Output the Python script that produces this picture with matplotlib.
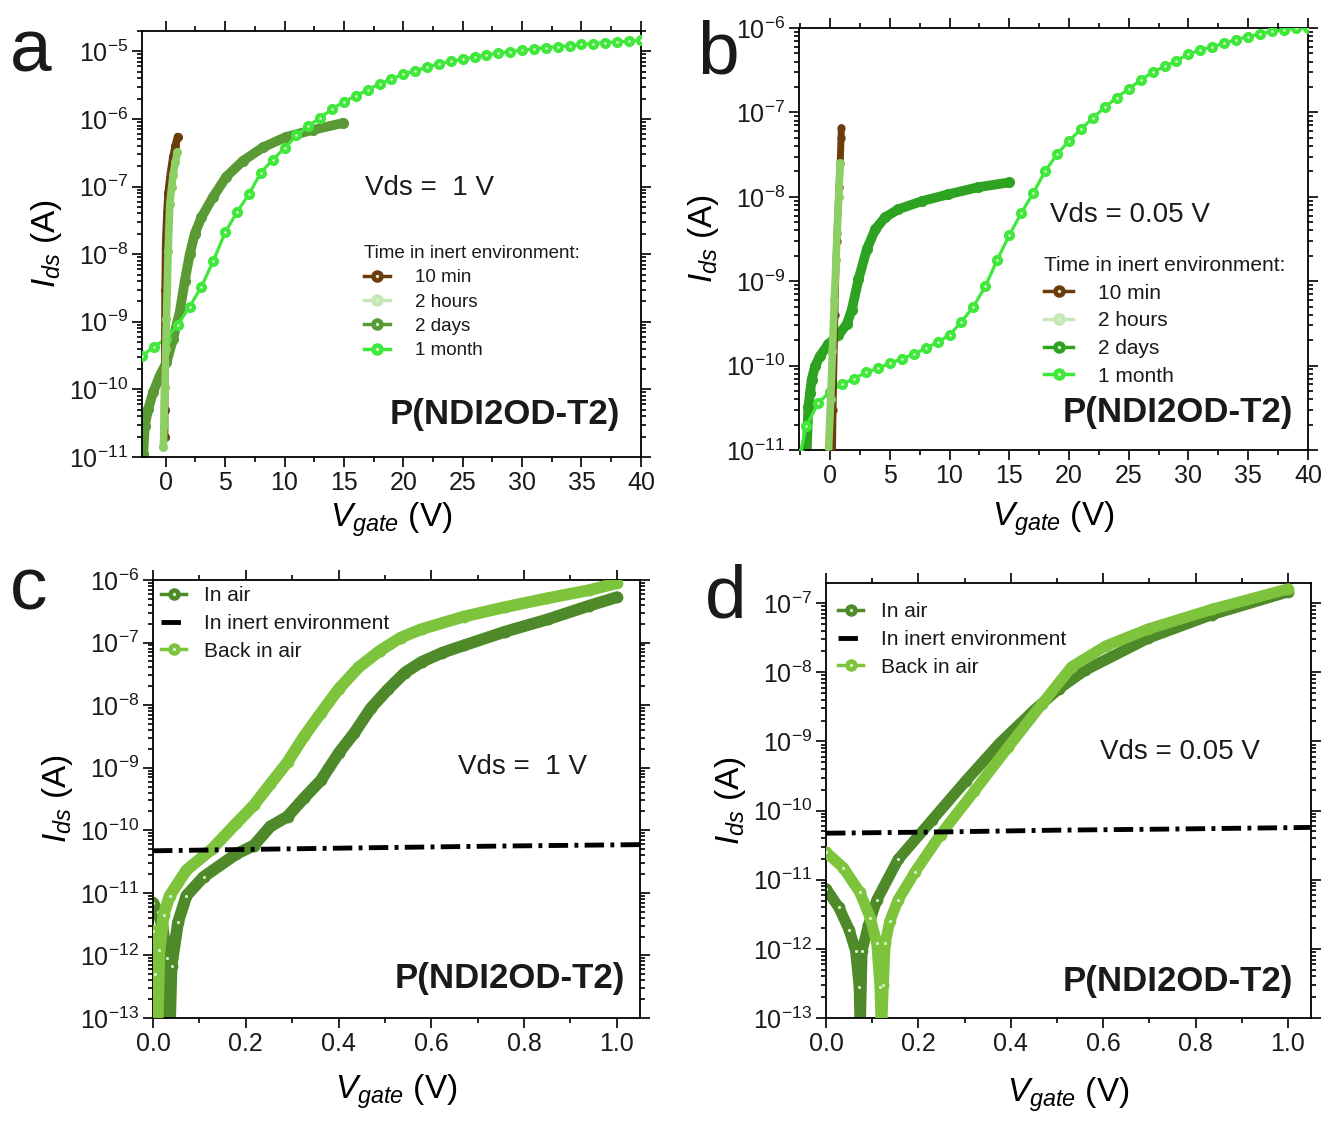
import numpy as np
import matplotlib
matplotlib.use("Agg")
import matplotlib.pyplot as plt
from matplotlib import ticker
from matplotlib.lines import Line2D
from matplotlib.legend_handler import HandlerTuple

plt.rcParams.update({
    "font.family": ["Liberation Sans", "DejaVu Sans"],
    "mathtext.fontset": "custom",
    "mathtext.rm": "Liberation Sans",
    "mathtext.it": "Liberation Sans:italic",
    "mathtext.bf": "Liberation Sans:bold",
    "axes.linewidth": 1.3,
    "text.color": "#1a1a1a",
})

# ---------------- (a) transfer curves, Vds = 1 V ----------------
a_10min_v = [-0.1, -0.1, -0.08, -0.05, 0.0, 0.1, 0.2, 0.4, 0.6, 0.8, 1.0]
a_10min_i = [2e-11, 5e-11, 3e-10, 3e-9, 1.5e-8, 4e-8, 8e-8, 1.6e-7, 2.7e-7, 4e-7, 5.5e-7]
a_2h_v = [-0.2, -0.15, -0.08, 0.0, 0.06, 0.2, 0.34, 0.5, 0.62, 0.8, 0.98]
a_2h_i = [1.4e-11, 3e-11, 1.1e-10, 4e-10, 1.1e-9, 1.1e-8, 5.5e-8, 1e-7, 1.5e-7, 2.3e-7, 3.2e-7]
a_2d_v = [-2.0, -1.9, -1.76, -1.48, -1.06, -0.5, 0.06, 0.62, 1.18, 1.6, 2.02, 2.44, 3.0,
          3.98, 5.1, 6.5, 8.18, 10.1, 12.4, 14.9]
a_2d_i = [8e-12, 1.1e-11, 2.9e-11, 5.1e-11, 9.1e-11, 1.6e-10, 2.5e-10, 5.6e-10, 1.4e-9, 4e-9,
          1e-8, 2e-8, 3.5e-8, 7e-8, 1.4e-7, 2.4e-7, 3.8e-7, 5.4e-7, 6.9e-7, 8.7e-7]
a_1m_v = list(range(-2, 41))
a_1m_i = [3.1e-10, 4.3e-10, 5.5e-10, 9e-10, 1.66e-9, 3.3e-9, 7.9e-9, 2.1e-8, 4.2e-8, 7.7e-8,
          1.6e-7, 2.5e-7, 3.7e-7, 5.7e-7, 7.9e-7, 1.04e-6, 1.4e-6, 1.8e-6, 2.2e-6, 2.7e-6,
          3.3e-6, 3.9e-6, 4.6e-6, 5.2e-6, 5.8e-6, 6.6e-6, 7.1e-6, 7.7e-6, 8.2e-6, 8.9e-6,
          9.4e-6, 9.9e-6, 1.04e-5, 1.09e-5, 1.14e-5, 1.17e-5, 1.21e-5, 1.27e-5, 1.3e-5,
          1.35e-5, 1.38e-5, 1.42e-5, 1.45e-5]

# ---------------- (b) transfer curves, Vds = 0.05 V ----------------
b_10min_v = [0.2, 0.25, 0.4, 0.55, 0.75, 0.85, 0.92, 0.95]
b_10min_i = [9e-12, 3e-11, 4e-10, 3e-9, 1.3e-8, 2.5e-8, 5e-8, 6.6e-8]
b_2h_v = [-0.14, 0.05, 0.2, 0.36, 0.5, 0.59, 0.72, 0.84]
b_2h_i = [9e-12, 4e-11, 1.5e-10, 6e-10, 1.8e-9, 3.7e-9, 1e-8, 2.5e-8]
b_2d_v = [-1.96, -1.82, -1.68, -1.54, -1.26, -0.84, -0.14, 0.7, 1.4, 1.82, 2.38, 3.08,
          3.78, 4.6, 5.7, 7.7, 9.9, 12.4, 15.0]
b_2d_i = [9e-12, 3.2e-11, 4.7e-11, 6.8e-11, 9.8e-11, 1.3e-10, 1.8e-10, 2.3e-10, 3.1e-10,
          4.6e-10, 1.05e-9, 2.4e-9, 4.1e-9, 5.7e-9, 7.1e-9, 8.9e-9, 1.07e-8, 1.3e-8, 1.48e-8]
b_1m_v = [-2.5] + list(range(-2, 41))
b_1m_i = [9e-12, 1.9e-11, 3.6e-11, 4.9e-11, 6e-11, 7e-11, 8.3e-11, 9.3e-11, 1.06e-10,
          1.2e-10, 1.37e-10, 1.6e-10, 1.9e-10, 2.3e-10, 3.3e-10, 5e-10, 8.7e-10, 1.8e-9,
          3.5e-9, 6.4e-9, 1.1e-8, 2e-8, 3.2e-8, 4.6e-8, 6.3e-8, 8.6e-8, 1.15e-7, 1.5e-7,
          1.9e-7, 2.4e-7, 3e-7, 3.5e-7, 4.1e-7, 4.9e-7, 5.5e-7, 6e-7, 6.6e-7, 7.3e-7,
          7.9e-7, 8.5e-7, 9.1e-7, 9.5e-7, 1e-6, 1e-6]

# ---------------- (c) air / inert / air, Vds = 1 V ----------------
c_air_v = [0.0, 0.01, 0.02, 0.03, 0.036, 0.04, 0.054, 0.072, 0.109, 0.18, 0.217, 0.253,
           0.29, 0.326, 0.362, 0.4, 0.434, 0.47, 0.507, 0.543, 0.579, 0.624, 0.67, 0.76,
           0.851, 0.941, 1.0]
c_air_i = [7e-12, 5e-12, 3e-12, 9e-13, 6e-14, 6.8e-13, 3.4e-12, 9e-12, 1.8e-11, 4.2e-11,
           5.7e-11, 1.15e-10, 1.66e-10, 3.3e-10, 6.3e-10, 1.7e-9, 3.6e-9, 9e-9, 1.8e-8,
           3.3e-8, 4.9e-8, 6.9e-8, 9e-8, 1.5e-7, 2.35e-7, 3.9e-7, 5.3e-7]
c_back_v = [0.0, 0.004, 0.009, 0.014, 0.023, 0.036, 0.072, 0.127, 0.18, 0.217, 0.253,
            0.29, 0.326, 0.362, 0.4, 0.443, 0.489, 0.534, 0.579, 0.67, 0.76, 0.85, 0.941,
            1.0]
c_back_i = [2.5e-12, 5e-13, 6e-14, 1.2e-12, 4.5e-12, 9e-12, 2.3e-11, 5e-11, 1.3e-10,
            2.5e-10, 5.5e-10, 1.23e-9, 3.2e-9, 7.5e-9, 1.8e-8, 4e-8, 7.4e-8, 1.2e-7,
            1.64e-7, 2.6e-7, 3.7e-7, 5.1e-7, 6.9e-7, 8.9e-7]
c_inert_v = [0.0, 0.25, 0.5, 0.75, 1.05]
c_inert_i = [4.7e-11, 5e-11, 5.3e-11, 5.6e-11, 5.9e-11]

# ---------------- (d) air / inert / air, Vds = 0.05 V ----------------
d_air_v = [0.0, 0.0275, 0.05, 0.064, 0.072, 0.074, 0.078, 0.092, 0.11, 0.156, 0.229,
           0.303, 0.376, 0.45, 0.505, 0.56, 0.697, 0.835, 1.0]
d_air_i = [7.4e-12, 4e-12, 1.9e-12, 9.4e-13, 2.8e-13, 6e-14, 9.4e-13, 2.2e-12, 5.1e-12,
           1.96e-11, 7.2e-11, 2.7e-10, 9.4e-10, 2.8e-9, 5.8e-9, 1.06e-8, 3.1e-8, 6.8e-8,
           1.45e-7]
d_back_v = [0.0, 0.037, 0.073, 0.096, 0.11, 0.117, 0.12, 0.124, 0.128, 0.138, 0.156,
            0.193, 0.248, 0.321, 0.394, 0.468, 0.532, 0.606, 0.697, 0.835, 1.0]
d_back_i = [2.5e-11, 1.5e-11, 6.6e-12, 2.8e-12, 1.2e-12, 2.8e-13, 6e-14, 3e-13, 1.2e-12,
            2.5e-12, 5.1e-12, 1.3e-11, 4.5e-11, 1.9e-10, 8.2e-10, 3.5e-9, 1.2e-8, 2.4e-8,
            4.2e-8, 8.1e-8, 1.6e-7]
d_inert_v = [0.0, 0.25, 0.5, 0.75, 1.05]
d_inert_i = [4.7e-11, 4.9e-11, 5.2e-11, 5.4e-11, 5.7e-11]

legend_a = ["10 min", "2 hours", "2 days", "1 month"]
legend_c = ["In air", "In inert environment", "Back in air"]

# colours
BROWN = "#6b3c0c"
LIGHT = "#8ccf63"
LIGHT_LEG = "#c6e8b6"
DAYS_A = "#5a9a35"
DAYS_B = "#2ea321"
MONTH = "#3fe83a"
AIR = "#4f8a2a"
BACK = "#7dc43c"
HL = "#d6f4cc"

W, H = 1326, 1122
fig = plt.figure(figsize=(W / 100, H / 100), dpi=100)


def frac(l, t, r, b):
    return [l / W, 1 - b / H, (r - l) / W, (b - t) / H]


def style(ax, xlim, ylim, xmaj, xmin, fmt=None, xpad=4):
    ax.set_yscale("log")
    ax.set_xlim(*xlim)
    ax.set_ylim(*ylim)
    ax.xaxis.set_major_locator(ticker.MultipleLocator(xmaj))
    ax.xaxis.set_minor_locator(ticker.MultipleLocator(xmin))
    if fmt:
        ax.xaxis.set_major_formatter(ticker.FormatStrFormatter(fmt))
    # decade ticks restricted to the visible range
    lo = int(np.floor(np.log10(ylim[0]) + 1e-3))
    hi = int(np.floor(np.log10(ylim[1]) + 1e-3))
    major = [10.0 ** k for k in range(lo, hi + 1)]
    minor = [m * 10.0 ** k for k in range(lo, hi + 1) for m in range(2, 10)
             if m * 10.0 ** k <= ylim[1]]
    ax.yaxis.set_major_locator(ticker.FixedLocator(major))
    ax.yaxis.set_minor_locator(ticker.FixedLocator(minor))
    ax.yaxis.set_major_formatter(ticker.LogFormatterSciNotation())
    ax.yaxis.set_minor_formatter(ticker.NullFormatter())
    ax.tick_params(which="both", top=True, right=True, direction="out",
                   labelsize=18, width=1.2, pad=3, labelcolor="#1a1a1a")
    ax.tick_params(which="major", length=7)
    ax.tick_params(which="minor", length=3.5)
    ax.set_ylabel(r"$I_{ds}$ (A)", fontsize=24, labelpad=4)
    ax.set_xlabel(r"$V_{gate}$ (V)", fontsize=24, labelpad=xpad)


def rope(ax, v, i, color, lw, ms, z, hl_below=None):
    ax.plot(v, i, "-", color=color, lw=lw, solid_capstyle="round",
            solid_joinstyle="round", zorder=z)
    ax.plot(v, i, "o", color=color, ms=ms, mec=color, zorder=z)
    if hl_below is not None:
        vv = [a for a, b in zip(v, i) if b < hl_below]
        ii = [b for b in i if b < hl_below]
        ax.plot(vv, ii, "o", color=HL, ms=ms * 0.3, mew=0, zorder=z + 0.1)


def beads(ax, v, i, color, lw, ms, z):
    ax.plot(v, i, "-", color=color, lw=lw, zorder=z)
    ax.plot(v, i, "o", color=color, ms=ms, mec=color, mew=1, zorder=z)
    ax.plot(v, i, "o", color=HL, ms=ms * 0.28, mew=0, zorder=z + 0.1)


def handle(color, lw=2.5, ms=8):
    base = Line2D([], [], color=color, lw=lw, marker="o", ms=ms, mec=color)
    hi = Line2D([], [], ls="none", marker="o", ms=ms * 0.3, color=HL, mew=0)
    return (base, hi)


DASHDOT = (0, (4, 1.3, 0.8, 1.3))
TUPLE = {tuple: HandlerTuple(ndivide=1)}

# ---------- panel a ----------
ax = fig.add_axes(frac(142, 31, 641, 457))
style(ax, (-2, 40.01), (1e-11, 2e-5), 5, 2.5)
rope(ax, a_2d_v, a_2d_i, DAYS_A, 7, 7, 2)
beads(ax, a_1m_v, a_1m_i, MONTH, 2.3, 7, 3)
rope(ax, a_10min_v, a_10min_i, BROWN, 5.5, 5.5, 4)
rope(ax, a_2h_v, a_2h_i, LIGHT, 5.5, 5.5, 5)
hs = [handle(BROWN), handle(LIGHT_LEG), handle(DAYS_A), handle(MONTH)]
ax.legend(hs, legend_a, title="Time in inert environment:", alignment="left",
          loc="upper left", bbox_to_anchor=(0.43, 0.515), frameon=False,
          fontsize=13.5, title_fontsize=13.5, handlelength=1.4, handletextpad=1.3,
          labelspacing=0.38, borderaxespad=0, handler_map=TUPLE)
ax.text(0.447, 0.632, "Vds =  1 V", transform=ax.transAxes, fontsize=20, va="center")
ax.text(0.958, 0.1, "P(NDI2OD-T2)", transform=ax.transAxes, fontsize=25,
        fontweight="bold", ha="right", va="center")

# ---------- panel b ----------
ax = fig.add_axes(frac(799, 28, 1308, 450))
style(ax, (-2.6, 40.01), (1e-11, 1.0001e-6), 5, 2.5, xpad=8)
rope(ax, b_2d_v, b_2d_i, DAYS_B, 7, 7, 2)
beads(ax, b_1m_v, b_1m_i, MONTH, 2.3, 7, 3)
rope(ax, b_10min_v, b_10min_i, BROWN, 5, 5, 4)
rope(ax, b_2h_v, b_2h_i, LIGHT, 5.5, 5.5, 5)
hs = [handle(BROWN), handle(LIGHT_LEG), handle(DAYS_B), handle(MONTH)]
ax.legend(hs, legend_a, title="Time in inert environment:", alignment="left",
          loc="upper left", bbox_to_anchor=(0.465, 0.48), frameon=False,
          fontsize=15, title_fontsize=15, handlelength=1.4, handletextpad=1.2,
          labelspacing=0.42, borderaxespad=0, handler_map=TUPLE)
ax.text(0.493, 0.557, "Vds = 0.05 V", transform=ax.transAxes, fontsize=20, va="center")
ax.text(0.97, 0.09, "P(NDI2OD-T2)", transform=ax.transAxes, fontsize=25,
        fontweight="bold", ha="right", va="center")

# ---------- panel c ----------
ax = fig.add_axes(frac(153, 580, 640, 1018))
style(ax, (0, 1.05), (0.9999e-13, 1.0001e-6), 0.2, 0.1, "%.1f", xpad=12)
rope(ax, c_air_v, c_air_i, AIR, 8.5, 7.5, 2, hl_below=2e-11)
rope(ax, c_back_v, c_back_i, BACK, 8.5, 7.5, 3, hl_below=2e-11)
ax.plot(c_inert_v, c_inert_i, color="black", lw=3.5, ls=DASHDOT, zorder=6)
hs = [handle(AIR), Line2D([], [], color="black", lw=3.5, ls=DASHDOT), handle(BACK)]
ax.legend(hs, legend_c, loc="upper left", bbox_to_anchor=(0.0, 1.005), frameon=False,
          fontsize=15, handlelength=1.2, handletextpad=0.85, labelspacing=0.42,
          borderaxespad=0, handler_map=TUPLE)
ax.text(0.626, 0.572, "Vds =  1 V", transform=ax.transAxes, fontsize=20, va="center")
ax.text(0.969, 0.091, "P(NDI2OD-T2)", transform=ax.transAxes, fontsize=25,
        fontweight="bold", ha="right", va="center")

# ---------- panel d ----------
ax = fig.add_axes(frac(826, 583, 1311, 1018))
style(ax, (0, 1.05), (0.9999e-13, 1.95e-7), 0.2, 0.1, "%.1f", xpad=14)
rope(ax, d_air_v, d_air_i, AIR, 8, 7.5, 2, hl_below=2e-11)
rope(ax, d_back_v, d_back_i, BACK, 8, 7.5, 3, hl_below=3e-11)
ax.plot(d_inert_v, d_inert_i, color="black", lw=3.5, ls=DASHDOT, zorder=6)
hs = [handle(AIR), Line2D([], [], color="black", lw=3.5, ls=DASHDOT), handle(BACK)]
ax.legend(hs, legend_c, loc="upper left", bbox_to_anchor=(0.008, 0.975), frameon=False,
          fontsize=15, handlelength=1.2, handletextpad=0.85, labelspacing=0.42,
          borderaxespad=0, handler_map=TUPLE)
ax.text(0.565, 0.611, "Vds = 0.05 V", transform=ax.transAxes, fontsize=20, va="center")
ax.text(0.963, 0.083, "P(NDI2OD-T2)", transform=ax.transAxes, fontsize=25,
        fontweight="bold", ha="right", va="center")

# panel letters
for lbl, x, y in [("a", 10, 71), ("b", 697, 74), ("c", 10, 610), ("d", 705, 617)]:
    fig.text(x / W, 1 - y / H, lbl, fontsize=54, va="baseline", ha="left")

fig.savefig("out.png", dpi=100)
